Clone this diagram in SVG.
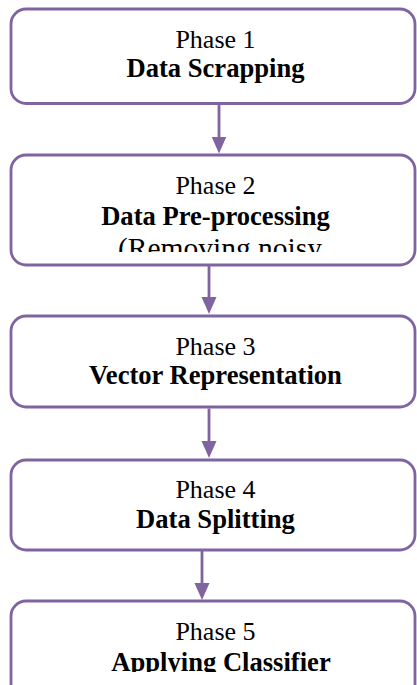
<svg xmlns="http://www.w3.org/2000/svg" width="417" height="685" viewBox="0 0 417 685">
<style>
.box{fill:#ffffff;stroke:#8064A2;stroke-width:2.8}
.t{font-family:"Liberation Serif","Times New Roman",serif;font-size:26px;fill:#000000;text-anchor:middle}
.b{font-weight:bold;font-size:26.6px}
.conn{stroke:#8064A2;stroke-width:2.8;fill:none}
</style>
<defs>
<marker id="arr" markerUnits="userSpaceOnUse" markerWidth="18" markerHeight="16" refX="9" refY="7.5" orient="auto">
<path d="M0,0 L17,7.5 L0,15 Z" fill="#8064A2"/>
</marker>
<clipPath id="clip2"><rect x="0" y="150" width="417" height="102"/></clipPath>
<clipPath id="clip5"><rect x="0" y="595" width="417" height="77"/></clipPath>
</defs>
<rect width="417" height="685" fill="#ffffff"/>
<g id="connectors">
<line class="conn" x1="219" y1="104.5" x2="219" y2="145.5" marker-end="url(#arr)"/>
<line class="conn" x1="209" y1="266" x2="209" y2="306" marker-end="url(#arr)"/>
<line class="conn" x1="209" y1="408.5" x2="209" y2="450" marker-end="url(#arr)"/>
<line class="conn" x1="202" y1="551" x2="202" y2="592" marker-end="url(#arr)"/>
</g>
<g id="phase1">
<rect class="box" x="11" y="9" width="404" height="94.5" rx="15"/>
<text class="t" x="215.5" y="47.5">Phase 1</text>
<text class="t b" x="215.5" y="77">Data Scrapping</text>
</g>
<g id="phase2">
<rect class="box" x="11" y="155" width="404" height="110" rx="15"/>
<text class="t" x="215.5" y="193.7">Phase 2</text>
<text class="t b" x="215.5" y="225">Data Pre-processing</text>
<text class="t" x="220" y="258" style="font-size:29.5px" clip-path="url(#clip2)">(Removing noisy</text>
</g>
<g id="phase3">
<rect class="box" x="11" y="316" width="404" height="91" rx="15"/>
<text class="t" x="215.5" y="354.5">Phase 3</text>
<text class="t b" x="215.5" y="383.5">Vector Representation</text>
</g>
<g id="phase4">
<rect class="box" x="11" y="460" width="404" height="90" rx="15"/>
<text class="t" x="215.5" y="498.3">Phase 4</text>
<text class="t b" x="215.5" y="528.3">Data Splitting</text>
</g>
<g id="phase5">
<rect class="box" x="11" y="601" width="404" height="100" rx="15"/>
<text class="t" x="215.5" y="640">Phase 5</text>
<text class="t b" x="221" y="671" clip-path="url(#clip5)">Applying Classifier</text>
</g>
</svg>
